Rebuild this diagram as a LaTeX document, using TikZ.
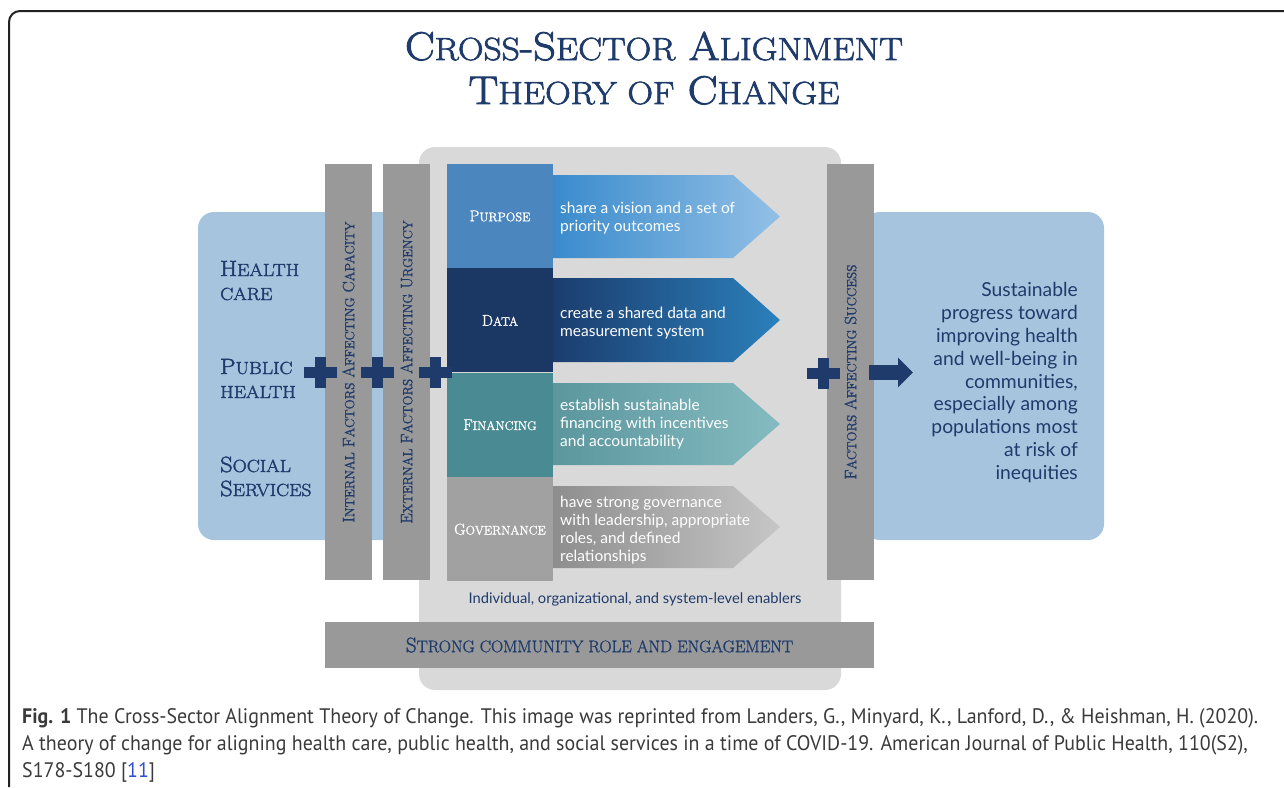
\documentclass[tikz,border=0pt]{standalone}
\usepackage{fontspec}
\usepackage{tikz}
\usetikzlibrary{positioning,arrows.meta}

\newfontfamily\bodyfont{Lato}
\newfontfamily\capfont[FakeStretch=0.95]{PT Sans}
\newfontfamily\heavysc[FakeBold=2.2, FakeStretch=1.11]{Latin Modern Roman}
\newfontfamily\midsc[FakeBold=1.5]{Latin Modern Roman}

% smaller capitals, for hand-made small caps
\makeatletter
\newcommand\lsc[1]{{\@tempdima=\f@size pt\relax\@tempdima=0.8\@tempdima\fontsize{\strip@pt\@tempdima}{\f@baselineskip}\selectfont #1}}
\makeatother

\definecolor{navy}{HTML}{1F3B6B}
\definecolor{paleblue}{HTML}{A7C4DF}
\definecolor{coregray}{HTML}{D9D9D9}
\definecolor{bargray}{HTML}{999999}
\definecolor{purposeblue}{HTML}{4B86BE}
\definecolor{datanavy}{HTML}{1B3764}
\definecolor{financeteal}{HTML}{4A8B93}
\definecolor{govgray}{HTML}{A1A1A1}
\definecolor{framegray}{HTML}{222222}
\definecolor{capgray}{HTML}{3A3A3A}
\definecolor{reflink}{HTML}{2F4FD0}

\begin{document}
\begin{tikzpicture}[x=1pt, y=-1pt,
    panel/.style={fill=paleblue, rounded corners=16pt, inner sep=0pt},
    core/.style={fill=coregray, rounded corners=16pt, inner sep=0pt},
    bar/.style={fill=bargray, inner sep=0pt, text=navy, font=\midsc\fontsize{16.5}{20}\selectfont},
    pillar/.style={minimum width=106pt, minimum height=104pt, inner sep=0pt, text=white, font=\midsc\fontsize{15.6}{17}\selectfont},
    steptext/.style={anchor=west, align=left, text=white, inner sep=0pt, font=\bodyfont\fontsize{15.5}{18}\selectfont},
    sector/.style={anchor=base west, align=left, inner sep=0pt, text=navy, font=\heavysc\fontsize{22}{24}\selectfont},
    titletext/.style={anchor=base, text=navy, inner sep=0pt, font=\heavysc\fontsize{40}{44}\selectfont},
    captext/.style={anchor=base west, inner sep=0pt, text=capgray, font=\capfont\fontsize{21}{27}\selectfont},
    outarrow/.style={navy, line width=15pt, -{Triangle[length=15pt, width=29pt]}}]
  \useasboundingbox (0,0) rectangle (1284,787);

  % frame and title
  \draw[line width=2pt, framegray, rounded corners=11pt] (9,787) -- (9,11) -- (1284,11);
  \node[titletext] (title1) at (654,60) {C\lsc{ROSS}-S\lsc{ECTOR} A\lsc{LIGNMENT}};
  \node[titletext] (title2) at (654,104) {T\lsc{HEORY OF} C\lsc{HANGE}};

  % background panels
  \node[panel, minimum width=240pt, minimum height=328pt] (src)  at (318,376) {};
  \node[panel, minimum width=240pt, minimum height=328pt] (goal) at (984,376) {};
  \node[core,  minimum width=422pt, minimum height=543pt] (core) at (630,418.5) {};

  % sectors
  \node[sector] (hc) at (220,300) {H\lsc{EALTH}\\\lsc{CARE}};
  \node[sector] (ph) at (220,398) {P\lsc{UBLIC}\\\lsc{HEALTH}};
  \node[sector] (ss) at (220,496) {S\lsc{OCIAL}\\S\lsc{ERVICES}};

  % factor bars
  \node[bar, rotate=90, minimum width=416pt, minimum height=47pt] (inner) at (348.5,372) {I\lsc{NTERNAL} F\lsc{ACTORS} A\lsc{FFECTING} C\lsc{APACITY}};
  \node[bar, rotate=90, minimum width=416pt, minimum height=47pt] (outer) at (406.5,372) {E\lsc{XTERNAL} F\lsc{ACTORS} A\lsc{FFECTING} U\lsc{RGENCY}};
  \node[bar, rotate=90, minimum width=416pt, minimum height=47pt] (succ)  at (850.5,372) {F\lsc{ACTORS} A\lsc{FFECTING} S\lsc{UCCESS}};
  \node[bar, minimum width=549pt, minimum height=46pt, font=\midsc\fontsize{21}{22}\selectfont] (comm) at (599.5,645) {S\lsc{TRONG COMMUNITY ROLE AND ENGAGEMENT}};

  % pillars
  \node[pillar, fill=purposeblue] (P) at (500,216) {P\lsc{URPOSE}};
  \node[pillar, fill=datanavy, below=0pt of P] (D) {D\lsc{ATA}};
  \node[pillar, fill=financeteal, below=0pt of D] (F) {F\lsc{INANCING}};
  \node[pillar, fill=govgray, below=0pt of F] (G) {G\lsc{OVERNANCE}};

  % step arrows
  \foreach \ya/\yb/\lc/\mc/\rc in {175/258/3A8BCC/4A9AD6/92C0E6, 278/362/1B3D6E/1F5A93/2B80BB,
      383/465/5C979E/78AFB5/84BBC0, 486/568/8E8E8E/ABABAB/C6C6C6} {
    \definecolor{lc}{HTML}{\lc}\definecolor{mc}{HTML}{\mc}\definecolor{rc}{HTML}{\rc}
    \shade[left color=lc, middle color=mc, right color=rc]
      (553,\ya) -- (733,\ya) -- (780,{(\ya+\yb)/2}) -- (733,\yb) -- (553,\yb) -- cycle;
  }
  \node[steptext] (Pt) at (560,218) {share a vision and a set of\\priority outcomes};
  \node[steptext] (Dt) at (560,323) {create a shared data and\\measurement system};
  \node[steptext] (Ft) at (560,424) {establish sustainable\\financing with incentives\\and accountability};
  \node[steptext] (Gt) at (560,530) {have strong governance\\with leadership, appropriate\\roles, and defined\\relationships};

  \node[anchor=base, inner sep=0pt, text=navy, font=\bodyfont\fontsize{14.7}{16}\selectfont] (en) at (635,603) {Individual, organizational, and system-level enablers};

  % pluses and outcome arrow
  \foreach \px/\py in {320.5/372.5, 377/372.5, 435.5/372.5, 823.5/373.5} {
    \fill[navy] (\px-16.5,\py-5.5) rectangle (\px+16.5,\py+5.5);
    \fill[navy] (\px-5.5,\py-15.5) rectangle (\px+5.5,\py+15.5);
  }
  \coordinate (tip) at (913,372.5);
  \draw[outarrow] ([xshift=-5pt]succ.south |- tip) -- (tip);

  \node[anchor=north east, align=right, inner sep=0pt, text=navy, font=\bodyfont\fontsize{19.3}{22.9}\selectfont] (out) at (1078,282)
    {Sustainable\\progress toward\\improving health\\and well-being in\\communities,\\especially among\\populations most\\at risk of\\inequities};

  % caption
  \node[captext] (cap1) at (22,723) {\textbf{Fig. 1} The Cross-Sector Alignment Theory of Change. This image was reprinted from Landers, G., Minyard, K., Lanford, D., \& Heishman, H. (2020).};
  \node[captext] (cap2) at (22,750) {A theory of change for aligning health care, public health, and social services in a time of COVID-19. American Journal of Public Health, 110(S2),};
  \node[captext] (cap3) at (22,777) {S178-S180 [{\color{reflink}11}]};
\end{tikzpicture}
\end{document}
